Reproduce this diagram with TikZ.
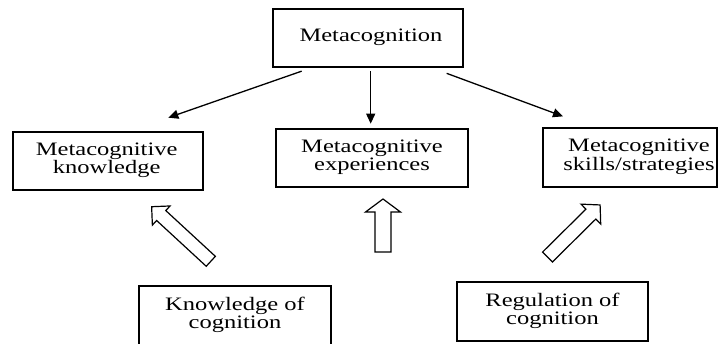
\documentclass[tikz,border=0pt]{standalone}
\usepackage{fontspec}
\setmainfont{Liberation Serif}
\usepackage{graphicx}
\usetikzlibrary{arrows.meta}
% box label: horizontal offset, vertical raise, lines of text
\newcommand\boxtext[3]{\makebox[0pt]{\hspace{#1}\raisebox{#2}{\scalebox{1.29}[1]{\begin{tabular}{@{}c@{}}#3\end{tabular}}}}}
\begin{document}
\begin{tikzpicture}[x=1pt,y=-1pt,
  box/.style={draw, line width=1.3pt, inner sep=0pt, font=\fontsize{19}{17.7}\selectfont},
  link/.style={line width=1.3pt, -{Triangle[length=10pt,width=9pt]}},
  blockoutline/.style={draw, line width=1.2pt, line join=miter},
  pics/hollowarrow/.style args={#1/#2/#3}{code={
    \draw[blockoutline] (0,{-#2/2}) -- ({#1-13},{-#2/2}) -- ({#1-13},{-#3/2}) -- (#1,0)
      -- ({#1-13},{#3/2}) -- ({#1-13},{#2/2}) -- (0,{#2/2}) -- cycle;}}]
\useasboundingbox (0,0) rectangle (725,343);

% boxes
\node[box, minimum width=190pt, minimum height=58pt] (meta) at (368,38) {\boxtext{6pt}{-8pt}{Metacognition}};
\node[box, minimum width=190pt, minimum height=58pt] (know) at (108,161) {\boxtext{-2.6pt}{0pt}{Metacognitive\\knowledge}};
\node[box, minimum width=192pt, minimum height=58pt] (exp) at (372,158) {\boxtext{0pt}{-2pt}{Metacognitive\\experiences}};
\node[box, minimum width=174pt, minimum height=59pt] (skills) at (630,157.5) {\boxtext{18pt}{0pt}{Metacognitive\\skills/strategies}};
\node[box, minimum width=192pt, minimum height=59pt] (kcog) at (235,315.5) {\boxtext{0pt}{-7pt}{Knowledge of\\cognition}};
\node[box, minimum width=191pt, minimum height=59pt] (reg) at (552.5,311.5) {\boxtext{0pt}{0pt}{Regulation of\\cognition}};

% arrows from the top box
\draw[link] ([shift={(-66.3,3.5)}]meta.south) -- ([shift={(60.3,-13.7)}]know.north);
\draw[link] ([shift={(2.7,3.7)}]meta.south) -- ([shift={(-1.3,-4.7)}]exp.north);
\draw[link] ([shift={(78.7,5.7)}]meta.south) -- ([shift={(-67,-11)}]skills.north);

% hollow block arrows
\pic[rotate=137.3] at (210.8,261.3) {hollowarrow=80.5/13.5/26};
\pic[rotate=90] at (383,252) {hollowarrow=53/16/35};
\pic[rotate=44.7] at (547.5,257) {hollowarrow=74/14/28};
\end{tikzpicture}
\end{document}
